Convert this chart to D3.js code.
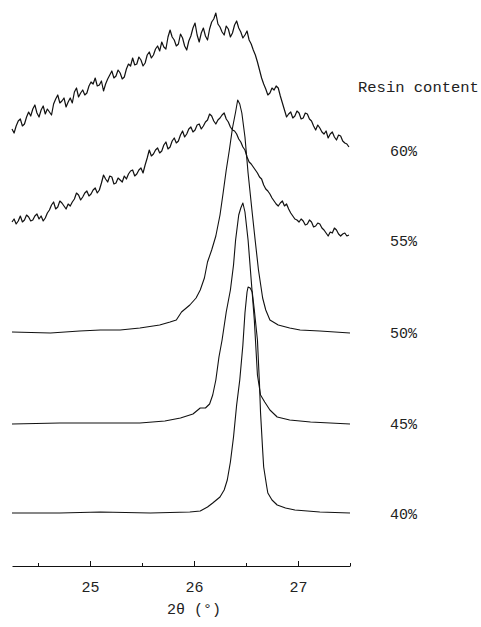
<!DOCTYPE html>
<html>
<head>
<meta charset="utf-8">
<script src="https://cdn.jsdelivr.net/npm/d3@7"></script>
<style>
  body { margin: 0; background: #fff; }
  svg { display: block; }
  text { font-family: "Liberation Mono", "DejaVu Sans Mono", monospace; fill: #222; }
  .trace { fill: none; stroke: #111; stroke-linejoin: round; }
</style>
</head>
<body>
<svg width="481" height="627"></svg>
<script>
const svg = d3.select("svg");

// resin content labels, bottom to top
const contents = ["40%", "45%", "50%", "55%", "60%"];
// vertical stacking offset of each trace (a.u.)
const offsets = [53, 143, 234, 326, 416];

// noisy scans (55%, 60%) are read on a regular 2θ grid
const scanStart = 24.25;
const scanStep = 0.02;

const int60 = [21,17,24,29,31,24,26,33,38,34, 41,45,37,33,40,44,36,41,38,35,
  46,51,55,47,49,52,43,48,52,47, 58,62,53,57,60,55,57,64,68,66,
  72,64,65,69,59,66,71,75,79,72, 74,80,77,71,73,81,86,84,92,85,
  86,93,90,84,87,95,98,92,95,101, 104,99,108,103,101,113,120,113,110,104,
  106,116,112,104,100,109,114,122,127,115, 108,117,122,114,110,121,128,131,137,126,
  123,118,115,124,121,113,117,125,129,122, 118,112,115,119,110,106,100,95,88,80,
  72,66,61,55,57,62,60,64,62,54, 47,40,33,36,38,32,34,39,37,31,
  32,37,36,31,29,24,20,25,22,18, 16,19,12,16,18,13,10,15,14,9, 7,6,3];

const int55 = [18,21,16,19,24,18,20,25,23,19, 20,24,26,21,24,19,22,27,30,35,
  38,31,33,39,37,34,31,36,34,38, 41,47,45,40,43,47,49,44,46,50,
  52,47,50,57,65,61,58,64,63,56, 57,62,60,58,64,61,66,69,70,64,
  66,70,72,67,75,82,90,84,86,90, 92,87,89,95,98,91,93,99,102,97,
  99,105,109,103,106,111,113,108,110,115, 116,111,114,118,120,126,124,119,116,120,
  122,125,127,121,118,113,110,109,106,101, 98,93,90,83,78,76,73,70,67,63,
  61,55,51,49,46,42,39,36,34,37, 39,34,36,31,27,24,21,20,18,21,
  19,15,16,20,18,13,14,17,16,12, 10,7,4,8,7,12,10,6,4,6, 7,4,5];

// sharper peaks (50%, 45%, 40%): [2θ, intensity]
const peak50 = [[24.25,0],[24.62,-1],[24.90,1],[25.10,2],[25.29,2],[25.48,4],[25.67,7],
  [25.77,10],[25.83,12],[25.88,20],[25.96,27],[26.02,34],[26.06,42],[26.10,54],[26.13,70],
  [26.17,82],[26.21,96],[26.25,117],[26.28,139],[26.31,162],[26.34,182],[26.37,204],
  [26.40,220],[26.42,232],[26.44,228],[26.46,219],[26.49,195],[26.52,159],[26.56,119],
  [26.59,90],[26.62,62],[26.66,34],[26.69,22],[26.73,12],[26.81,7],[26.92,4],[27.02,2],
  [27.21,1],[27.50,-1]];

const peak45 = [[24.25,-1],[24.71,0],[25.10,0],[25.48,0],[25.72,2],[25.87,5],[25.99,9],
  [26.06,15],[26.11,15],[26.15,19],[26.18,28],[26.21,43],[26.24,66],[26.27,83],[26.31,111],
  [26.35,133],[26.38,158],[26.40,183],[26.43,208],[26.45,215],[26.47,220],[26.49,211],
  [26.52,183],[26.55,143],[26.58,103],[26.61,48],[26.64,28],[26.68,21],[26.73,13],
  [26.80,6],[26.92,3],[27.12,1],[27.50,-1]];

const peak40 = [[24.25,0],[24.71,0],[25.10,1],[25.58,0],[25.96,1],[26.06,2],[26.13,6],
  [26.18,10],[26.25,16],[26.29,23],[26.32,33],[26.35,51],[26.38,76],[26.41,108],[26.44,133],
  [26.47,168],[26.49,200],[26.51,221],[26.52,226],[26.54,225],[26.56,221],[26.58,203],
  [26.61,173],[26.63,128],[26.64,100],[26.66,63],[26.67,46],[26.70,26],[26.71,20],
  [26.75,13],[26.80,8],[26.88,5],[26.97,3],[27.21,1],[27.50,0]];

const majorTicks = [25, 26, 27];
const minorTicks = [24.5, 25.5, 26.5, 27.5];

const scan = arr => arr.map((v, i) => [scanStart + i * scanStep, v]);
const traces = [peak40, peak45, peak50, scan(int55), scan(int60)];

const x = d3.scaleLinear().domain([24.25, 27.5]).range([12, 350]);
const y = d3.scaleLinear().domain([0, 560]).range([566, 6]);

traces.forEach((pts, i) => {
  const line = d3.line()
    .x(d => x(d[0]))
    .y(d => y(d[1] + offsets[i]));
  svg.append("path")
    .attr("class", "trace")
    .attr("stroke-width", i >= 3 ? 1.2 : 1.1)
    .attr("d", line(pts));

  svg.append("text")
    .attr("x", 390)
    .attr("y", y(offsets[i]) + 2)
    .attr("dominant-baseline", "central")
    .attr("font-size", 15)
    .text(contents[i]);
});

svg.append("text")
  .attr("x", 358)
  .attr("y", 88)
  .attr("dominant-baseline", "central")
  .attr("font-size", 15.5)
  .text("Resin content");

// x axis, ticks pointing up
const axis = svg.append("g").attr("transform", "translate(0,566)");
axis.call(d3.axisBottom(x).tickValues(majorTicks).tickSizeInner(-5).tickSizeOuter(0)
  .tickPadding(15).tickFormat(d3.format("d")));
axis.selectAll("text").attr("font-size", 15).attr("font-family", null).attr("fill", "#222");
axis.selectAll("path, line").attr("stroke", "#111");

const minor = svg.append("g").attr("transform", "translate(0,566)");
minor.call(d3.axisBottom(x).tickValues(minorTicks).tickSizeInner(-3).tickSizeOuter(0).tickFormat(""));
minor.select(".domain").remove();
minor.selectAll("line").attr("stroke", "#111");

svg.append("text")
  .attr("x", 194)
  .attr("y", 610)
  .attr("text-anchor", "middle")
  .attr("dominant-baseline", "central")
  .attr("font-size", 15)
  .text("2θ (°)");
</script>
</body>
</html>
